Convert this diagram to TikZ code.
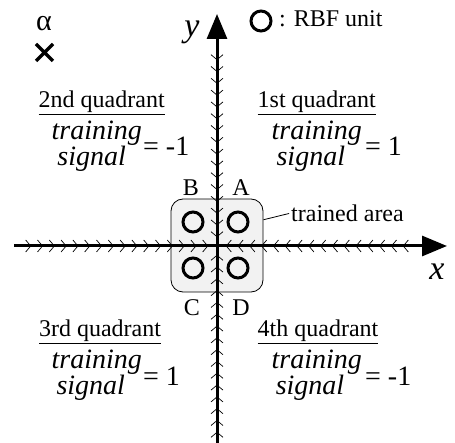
\documentclass[tikz,border=0pt]{standalone}
\usepackage{fontspec}
\setmainfont{Liberation Serif}
\usetikzlibrary{arrows.meta,calc}
\tikzset{
  rbf/.style={
    shape = circle,
    draw,
    line width = 3pt,
    minimum size = 20pt,
    inner sep = 0pt
  },
  area/.style={
    draw,
    fill = gray!10,
    line width = 0.8pt,
    rounded corners = 12pt,
    minimum width = 92pt,
    minimum height = 93pt
  },
  axis/.style={
    line width = 3pt,
    -{Triangle[length=25pt,width=20pt]}
  },
  chev/.style={line width = 0.7pt},
  txt/.style={font=\fontsize{24pt}{28pt}\selectfont, inner sep=0pt},
  quad/.style={txt, anchor=base},
  sig/.style={font=\itshape\fontsize{28pt}{32pt}\selectfont, inner sep=0pt, anchor=base},
  val/.style={font=\fontsize{28pt}{32pt}\selectfont, inner sep=0pt, anchor=base west},
  axlab/.style={font=\itshape\fontsize{34pt}{40pt}\selectfont, inner sep=0pt}
}

\begin{document}
\begin{tikzpicture}[x=1pt,y=-1pt]
  \useasboundingbox (0,0) rectangle (455,443);
  \coordinate (O) at (217,246);
  \coordinate (xl) at (14,246);
  \coordinate (xr) at (447,246);
  \coordinate (yb) at (217,443);
  \coordinate (yt) at (217,14);

  % trained area
  \node[area] (area) at (217,245.5) {};

  % axes
  \draw[axis] (xl) -- (xr);
  \draw[axis] (yb) -- (yt);
  \foreach \k in {1,...,16} {
    \draw[chev] ($(O)+(-11.8*\k-2.5,-6)$) --++(5,6) --++(-5,6);
    \draw[chev] ($(O)+(11.8*\k+2.5,-6)$) --++(-5,6) --++(5,6);
    \draw[chev] ($(O)+(-6,-11.8*\k-2.5)$) --++(6,5) --++(6,-5);
    \draw[chev] ($(O)+(-6,11.8*\k+2.5)$) --++(6,-5) --++(6,5);
  }
  \node[axlab] (ylab) at (192,32) {y};
  \node[axlab] (xlab) at (437,272) {x};

  % RBF units
  \node[rbf] (A) at (238,222) {};
  \node[rbf] (B) at (193,222) {};
  \node[rbf] (C) at (193,268) {};
  \node[rbf] (D) at (238,268) {};
  \node[txt] (lA) at (241,188) {A};
  \node[txt] (lB) at (191,188) {B};
  \node[txt] (lC) at (192,308) {C};
  \node[txt] (lD) at (241,308) {D};

  \node[txt, anchor=west] (arealab) at (291,213) {trained area};
  \draw[line width=0.8pt, shorten >=2pt] (area.29) -- (arealab.west);

  % legend
  \node[rbf] (unit) at (261,21) {};
  \node[txt, anchor=base west] (unitlab) at (279,27) {: RBF unit};
  \node[txt, font=\fontsize{30pt}{34pt}\selectfont] (alpha) at (44,24) {α};
  \draw[line width=3.5pt] (36,44) -- (53,61) (53,44) -- (36,61);

  % quadrants
  \node[quad] (q2) at (101.7,108) {\underline{2nd quadrant}};
  \node[sig] (tr2) at (96.7,140) {training};
  \node[sig] (sg2) at (91.7,166) {signal};
  \node[val] (eq2) at (143,156) {= -1};

  \node[quad] (q1) at (316.7,108) {\underline{1st quadrant}};
  \node[sig] (tr1) at (316.7,140) {training};
  \node[sig] (sg1) at (310.8,166) {signal};
  \node[val] (eq1) at (365,156) {= 1};

  \node[quad] (q3) at (100,337) {\underline{3rd quadrant}};
  \node[sig] (tr3) at (96.7,369) {training};
  \node[sig] (sg3) at (90.8,395) {signal};
  \node[val] (eq3) at (143,385) {= 1};

  \node[quad] (q4) at (318,337) {\underline{4th quadrant}};
  \node[sig] (tr4) at (316.7,369) {training};
  \node[sig] (sg4) at (310,395) {signal};
  \node[val] (eq4) at (365,385) {= -1};
\end{tikzpicture}
\end{document}
